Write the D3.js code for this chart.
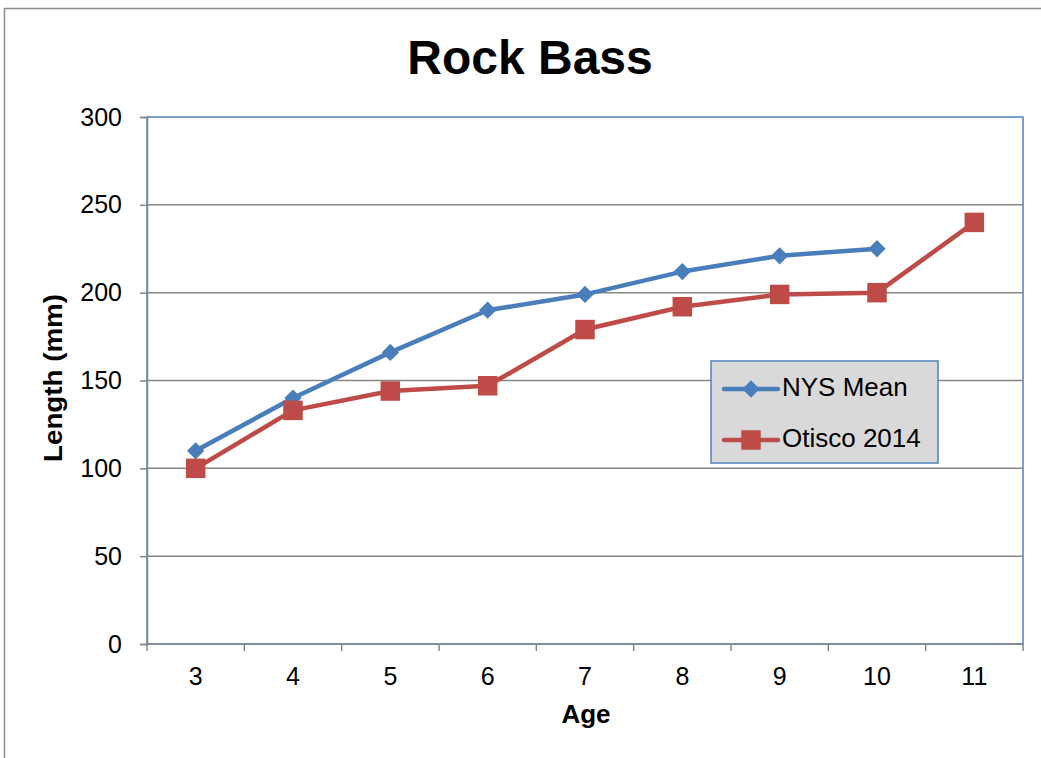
<!DOCTYPE html>
<html>
<head>
<meta charset="utf-8">
<script src="https://cdn.jsdelivr.net/npm/d3@7"></script>
<style>
  html, body { margin: 0; padding: 0; background: #fff; }
  svg { display: block; font-family: "Liberation Sans", Arial, sans-serif; }
</style>
</head>
<body>
<svg id="chart" width="1041" height="758"></svg>
<script>
// Mean length at age for rock bass
const ages = [3, 4, 5, 6, 7, 8, 9, 10, 11];
const nysMean = [110, 140, 166, 190, 199, 212, 221, 225, null];
const otisco2014 = [100, 133, 144, 147, 179, 192, 199, 200, 240];
const yTicks = [0, 50, 100, 150, 200, 250, 300];
const seriesNames = ["NYS Mean", "Otisco 2014"];
const seriesColors = ["#4a7ebb", "#be4b48"];

const svg = d3.select("#chart");
const W = 1041, H = 758;
const m = { left: 147, right: 1023, top: 117, bottom: 644 };

// outer chart frame
svg.append("rect").attr("x", 4.5).attr("y", 8.5).attr("width", W + 10).attr("height", H + 10)
  .attr("fill", "#fff").attr("stroke", "#8c8c8c").attr("stroke-width", 1.5);

const x = d3.scaleBand().domain(ages).range([m.left, m.right]);
const y = d3.scaleLinear().domain([0, 300]).range([m.bottom, m.top]);

// title
svg.append("text").attr("x", 530).attr("y", 74).attr("text-anchor", "middle")
  .attr("font-size", 48).attr("font-weight", "bold").attr("fill", "#000").text("Rock Bass");

// plot border
svg.append("rect").attr("x", m.left).attr("y", m.top)
  .attr("width", m.right - m.left).attr("height", m.bottom - m.top)
  .attr("fill", "none").attr("stroke", "#4f81bd").attr("stroke-width", 1.5);

// horizontal gridlines
svg.append("g").selectAll("line").data(yTicks.filter(d => d > 0 && d < 300)).join("line")
  .attr("x1", m.left).attr("x2", m.right)
  .attr("y1", d => y(d)).attr("y2", d => y(d))
  .attr("stroke", "#868686").attr("stroke-width", 1.5);

// y axis
const yAxis = svg.append("g").attr("transform", `translate(${m.left},0)`)
  .call(d3.axisLeft(y).tickValues(yTicks).tickSize(7).tickPadding(18));
yAxis.select(".domain").attr("stroke", "#868686").attr("stroke-width", 1.5);
yAxis.selectAll(".tick line").attr("stroke", "#868686").attr("stroke-width", 1.5);
yAxis.selectAll(".tick text").attr("font-size", 25).attr("fill", "#000")
  .attr("font-family", "Liberation Sans, Arial, sans-serif");

// x axis with ticks on category boundaries
const xAxisG = svg.append("g").attr("transform", `translate(0,${m.bottom})`);
xAxisG.append("line").attr("x1", m.left).attr("x2", m.right).attr("y1", 0).attr("y2", 0)
  .attr("stroke", "#868686").attr("stroke-width", 1.5);
const bounds = ages.map(a => x(a)).concat([x(ages[ages.length - 1]) + x.bandwidth()]);
xAxisG.selectAll("line.tk").data(bounds).join("line").attr("class", "tk")
  .attr("x1", d => d).attr("x2", d => d).attr("y1", 0).attr("y2", 7)
  .attr("stroke", "#868686").attr("stroke-width", 1.5);
xAxisG.selectAll("text").data(ages).join("text")
  .attr("x", d => x(d) + x.bandwidth() / 2).attr("y", 41)
  .attr("text-anchor", "middle").attr("font-size", 25).attr("fill", "#000").text(d => d);

// axis titles
svg.append("text").attr("x", 586).attr("y", 723).attr("text-anchor", "middle")
  .attr("font-size", 26).attr("font-weight", "bold").text("Age");
svg.append("text").attr("transform", "translate(62,378) rotate(-90)").attr("text-anchor", "middle")
  .attr("font-size", 26).attr("font-weight", "bold")
  .attr("textLength", 168).attr("lengthAdjust", "spacingAndGlyphs").text("Length (mm)");

// series
const cx = a => x(a) + x.bandwidth() / 2;
const diamond = d3.symbol().type(d3.symbolDiamond2).size(190);
const square = d3.symbol().type(d3.symbolSquare).size(380);
const series = [
  { name: seriesNames[0], values: nysMean, color: seriesColors[0], shape: diamond },
  { name: seriesNames[1], values: otisco2014, color: seriesColors[1], shape: square }
];
const line = d3.line().defined(d => d.v != null).x(d => cx(d.a)).y(d => y(d.v));

series.forEach(s => {
  const pts = ages.map((a, i) => ({ a, v: s.values[i] }));
  svg.append("path").datum(pts).attr("d", line)
    .attr("fill", "none").attr("stroke", s.color).attr("stroke-width", 4.5)
    .attr("stroke-linejoin", "round").attr("stroke-linecap", "round");
  svg.append("g").selectAll("path").data(pts.filter(p => p.v != null)).join("path")
    .attr("d", s.shape).attr("transform", p => `translate(${cx(p.a)},${y(p.v)})`)
    .attr("fill", s.color);
});

// legend
const lg = svg.append("g");
lg.append("rect").attr("x", 711).attr("y", 361).attr("width", 227).attr("height", 102)
  .attr("fill", "#d9d9d9").attr("stroke", "#4f81bd").attr("stroke-width", 1.5);
series.forEach((s, i) => {
  const ly = 389 + i * 51;
  lg.append("line").attr("x1", 724).attr("x2", 778).attr("y1", ly).attr("y2", ly)
    .attr("stroke", s.color).attr("stroke-width", 4.5).attr("stroke-linecap", "round");
  lg.append("path").attr("d", s.shape).attr("transform", `translate(751,${ly})`).attr("fill", s.color);
  lg.append("text").attr("x", 782).attr("y", ly + 7).attr("font-size", 26).attr("fill", "#000").text(s.name);
});
</script>
</body>
</html>
